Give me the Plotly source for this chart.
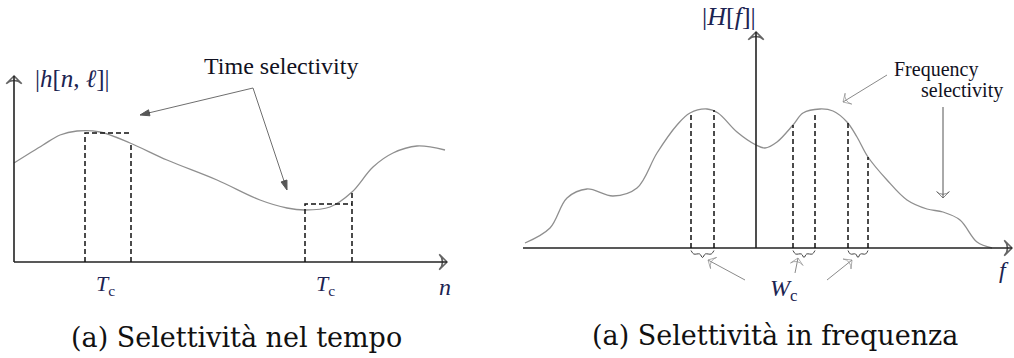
import plotly.graph_objects as go

# ---- left panel: |h[n, l]| over time n ----
n_pts = [0, 2.9, 4.6, 6.3, 8.6, 11.6, 15.3, 20.3, 24.6, 27.3, 29.1, 31.6, 33.8, 35.9, 37.9, 40.3, 43.1]
h_mag = [9.9, 11.7, 12.7, 13.1, 13.0, 11.9, 10.2, 8.2, 6.2, 5.4, 5.2, 5.5, 7.0, 9.5, 10.9, 11.6, 11.2]

# coherence-time windows
tc_start = [7.1, 29.1]
tc_end = [11.7, 33.8]
tc_top = [12.9, 5.8]
tc_end_h = [11.9, 7.0]

# ---- right panel: |H[f]| over frequency f ----
f_pts = [-23.1, -20.6, -18.9, -16.9, -14.3, -11.9, -9.9, -7.9, -6.6, -4.9, -3.8, -1.9, 0, 0.9,
         2.1, 3.7, 4.7, 6.4, 7.7, 9.1, 10.1, 11.2, 13.1, 15.1, 17.1, 18.7, 20.4, 22.1, 23.6]
H_mag = [0.5, 2.0, 5.0, 5.9, 5.2, 6.0, 9.5, 12.3, 13.5, 13.9, 13.5, 11.6, 10.3, 10.0,
         10.6, 12.3, 13.5, 13.9, 13.7, 12.6, 11.1, 9.1, 6.8, 4.8, 3.9, 3.6, 2.8, 0.6, 0.0]

# coherence-bandwidth windows
wc_left = [-6.5, 3.7, 9.2]
wc_right = [-4.2, 5.9, 11.2]
wc_left_h = [13.5, 12.3, 12.5]
wc_right_h = [13.8, 13.6, 9.1]

AX_COLOR = "#222222"
CURVE_COLOR = "#8f8f8f"
ARROW_GRAY = "#8a8a8a"
MATH_COLOR = "#1c2452"
SERIF = "'Liberation Serif', 'Times New Roman', Times, 'DejaVu Serif', serif"
CAPTION_FONT = "'DejaVu Serif', serif"

fig = go.Figure()


def line(xs, ys, ax, color, width, dash="solid", shape="linear"):
    xa, ya = ax
    fig.add_trace(go.Scatter(x=xs, y=ys, mode="lines", xaxis=xa, yaxis=ya,
                             line=dict(color=color, width=width, dash=dash, shape=shape,
                                       smoothing=1.0),
                             hoverinfo="skip", showlegend=False))


def arrow(xs, ys, ax, color, width, symbol, size, head_color=None):
    xa, ya = ax
    hc = head_color or color
    fig.add_trace(go.Scatter(x=xs, y=ys, mode="lines+markers", xaxis=xa, yaxis=ya,
                             line=dict(color=color, width=width),
                             marker=dict(symbol=symbol, size=[0, size], angleref="previous",
                                         color=hc, line=dict(color=hc, width=width)),
                             hoverinfo="skip", showlegend=False))


L = ("x", "y")
R = ("x2", "y2")

# left panel curve and axes
line(n_pts, h_mag, L, CURVE_COLOR, 1.3, shape="spline")
arrow([0, 0], [0, 18.6], L, AX_COLOR, 1.6, "arrow-wide-open", 11)
arrow([0, 43.3], [0, 0], L, AX_COLOR, 1.6, "arrow-wide-open", 11)
for s, e, t, eh in zip(tc_start, tc_end, tc_top, tc_end_h):
    line([s, s, e, None, e, e], [0, t, t, None, 0, eh], L, "#111111", 1.5, dash="5px,3px")

# "Time selectivity" pointers
arrow([23.9, 12.6], [17.4, 14.7], L, "#6e6e6e", 1.0, "arrow", 10, head_color="#111111")
arrow([23.9, 27.3], [17.4, 7.2], L, "#6e6e6e", 1.0, "arrow", 10, head_color="#111111")

# right panel curve and axes
line(f_pts, H_mag, R, CURVE_COLOR, 1.3, shape="spline")
arrow([0, 0], [0, 21.6], R, AX_COLOR, 1.6, "arrow-wide-open", 11)
arrow([-23.3, 25.6], [0, 0], R, AX_COLOR, 1.6, "arrow-wide-open", 11)
for a, b, ha, hb in zip(wc_left, wc_right, wc_left_h, wc_right_h):
    line([a, a, None, b, b], [0, ha, None, 0, hb], R, "#111111", 1.5, dash="5px,3px")
    # small brace under each window
    w = b - a
    m = (a + b) / 2
    bx = [a, a + 0.12 * w, m - 0.12 * w, m, m + 0.12 * w, b - 0.12 * w, b]
    by = [-0.25, -0.6, -0.6, -0.95, -0.6, -0.6, -0.25]
    line(bx, by, R, "#444444", 1.0, shape="spline")

# W_c pointers
arrow([-1.1, -4.8], [-3.2, -1.2], R, ARROW_GRAY, 1.0, "arrow-wide-open", 9)
arrow([3.9, 4.2], [-2.5, -1.0], R, ARROW_GRAY, 1.0, "arrow-wide-open", 9)
arrow([7.1, 9.6], [-3.2, -1.2], R, ARROW_GRAY, 1.0, "arrow-wide-open", 9)

# "Frequency selectivity" pointers
arrow([13.1, 8.7], [17.3, 14.6], R, ARROW_GRAY, 1.0, "arrow-wide-open", 9)
arrow([18.7, 18.7], [14.1, 5.0], R, "#555555", 1.0, "arrow-wide-open", 9)


def label(text, x, y, ax, size, color=MATH_COLOR, family=SERIF, xshift=0):
    fig.add_annotation(text=text, x=x, y=y, xref=ax[0], yref=ax[1], showarrow=False,
                       xshift=xshift, font=dict(family=family, size=size, color=color))


label("|<i>h</i>[<i>n</i>, <i>ℓ</i>]|", 5.8, 18.4, L, 25)
label("Time selectivity", 26.7, 19.6, L, 24, color="#111122")
for s, e in zip(tc_start, tc_end):
    label("<i>T</i><sub>c</sub>", (s + e) / 2, -2.3, L, 22, xshift=-3)
label("<i>n</i>", 43.1, -2.5, L, 24)
label("(a) Selettività nel tempo", 22.2, -7.5, L, 27, color="#111111", family=CAPTION_FONT)

label("|<i>H</i>[<i>f</i>]|", -2.7, 23.2, R, 26)
label("Frequency", 18.0, 17.9, R, 20, color="#111122")
label("selectivity", 20.6, 15.8, R, 20, color="#111122")
label("<i>W</i><sub>c</sub>", 2.7, -4.2, R, 24)
label("<i>f</i>", 24.8, -2.2, R, 24)
label("(a) Selettività in frequenza", 1.9, -8.7, R, 27, color="#111111", family=CAPTION_FONT)

hidden = dict(visible=False, showgrid=False, zeroline=False, fixedrange=True)
fig.update_layout(
    width=1014, height=358,
    margin=dict(l=0, r=0, t=0, b=0),
    paper_bgcolor="white", plot_bgcolor="white",
    font=dict(family=SERIF),
    showlegend=False, hovermode=False,
    xaxis=dict(domain=[0, 0.5], range=[-1.4, 49.3], **hidden),
    yaxis=dict(domain=[0, 1], range=[-9.6, 26.2], **hidden),
    xaxis2=dict(domain=[0.5, 1], range=[-24.9, 25.8], anchor="y2", **hidden),
    yaxis2=dict(domain=[0, 1], range=[-11.0, 24.8], anchor="x2", **hidden),
)

fig.write_html("out.html")
